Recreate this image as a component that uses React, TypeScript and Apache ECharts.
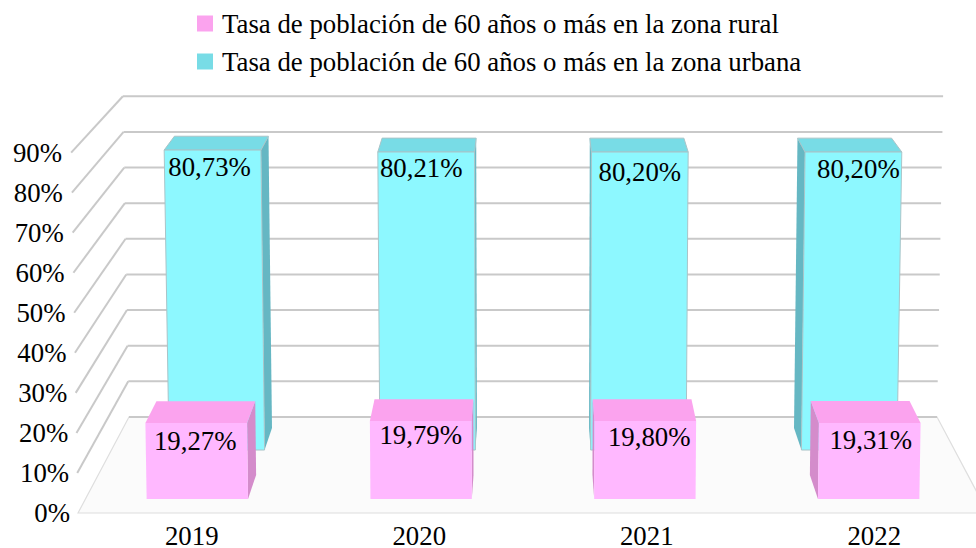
import React, { useEffect, useRef } from "react";
import * as echarts from "echarts";

const YEARS = ["2019", "2020", "2021", "2022"];
const RURAL = [19.27, 19.79, 19.8, 19.31];
const URBAN = [80.73, 80.21, 80.2, 80.2];
const TICKS = [0, 10, 20, 30, 40, 50, 60, 70, 80, 90];
const RURAL_NAME = "Tasa de población de 60 años o más en la zona rural";
const URBAN_NAME = "Tasa de población de 60 años o más en la zona urbana";

const FONT_FAMILY = '"Liberation Serif", "Times New Roman", serif';
const FONT_SIZE = 26.8;
const LABEL_FONT = `${FONT_SIZE}px ${FONT_FAMILY}`;
const GRID_LINE = "#C9C9C9";
// hand-placed label offsets from the reference (dx, dy from the top-front edge centre)
const URBAN_NUDGE = [[-3, 17], [-5, 16], [0, 20], [5, 17]];
const RURAL_NUDGE = [[-1, 18], [0, 14], [4, 16], [1, 17]];

// oblique projection: depth 0 = front plane (the grid), depth 1 = back wall
function projector(cs: any, baseY: number) {
  const cx = cs.x + cs.width / 2;
  return (xf: number, yf: number, d: number): number[] => {
    const h = baseY - yf;
    const y = baseY - 96 * d - h * (1 - 0.11 * d);
    const x = cx + (xf - cx) * (1 - 0.112 * d) * (1 + (0.015 * h) / cs.height);
    return [x, y];
  };
}

function wallItem(params: any, api: any) {
  const cs = params.coordSys;
  const t = api.value(1);
  const yf = api.coord([0, t])[1];
  const baseY = api.coord([0, 0])[1];
  const p = projector(cs, baseY);
  const l0 = p(cs.x, yf, 0);
  const l1 = p(cs.x, yf, 1);
  const r1 = p(cs.x + cs.width, yf, 1);
  const children: any[] = [];
  if (t === 0) {
    const r0 = p(cs.x + cs.width, yf, 0);
    children.push({
      type: "polygon",
      shape: { points: [l0, l1, r1, r0] },
      style: { fill: "#FBFBFB", stroke: "#DEDEDE", lineWidth: 1.2 },
    });
  } else {
    children.push({
      type: "line",
      shape: { x1: l0[0], y1: l0[1], x2: l1[0], y2: l1[1] },
      style: { stroke: GRID_LINE, lineWidth: 2 },
    });
  }
  children.push({
    type: "line",
    shape: { x1: l1[0], y1: l1[1], x2: r1[0], y2: r1[1] },
    style: { stroke: GRID_LINE, lineWidth: 2 },
  });
  return { type: "group", children };
}

function barRenderer(
  d0: number,
  d1: number,
  front: string,
  top: string,
  side: string,
  edge: string,
  nudge: number[][],
) {
  return (params: any, api: any) => {
    const cs = params.coordSys;
    const i = api.value(0);
    const v = api.value(1);
    const [xc, yTop] = api.coord([i, v]);
    const baseY = api.coord([i, 0])[1];
    const w = api.size([1, 0])[0] * 0.453;
    const p = projector(cs, baseY);
    const xa = xc - w / 2;
    const xb = xc + w / 2;
    const leftOfCentre = xc < cs.x + cs.width / 2;
    const sx = leftOfCentre ? xb : xa;
    const stroke = edge ? { stroke: edge, lineWidth: 1 } : {};
    const ft = p((xa + xb) / 2, yTop, d0);
    const children: any[] = [
      {
        type: "polygon",
        shape: { points: [p(sx, yTop, d0), p(sx, yTop, d1), p(sx, baseY, d1), p(sx, baseY, d0)] },
        style: { fill: side },
      },
      {
        type: "polygon",
        shape: { points: [p(xa, yTop, d0), p(xa, yTop, d1), p(xb, yTop, d1), p(xb, yTop, d0)] },
        style: { fill: top, ...stroke },
      },
      {
        type: "polygon",
        shape: { points: [p(xa, yTop, d0), p(xb, yTop, d0), p(xb, baseY, d0), p(xa, baseY, d0)] },
        style: { fill: front, ...stroke },
      },
      {
        type: "text",
        x: ft[0] + nudge[i][0],
        y: ft[1] + nudge[i][1],
        style: {
          text: `${v.toFixed(2).replace(".", ",")}%`,
          fill: "#000",
          font: LABEL_FONT,
          align: "center",
          verticalAlign: "middle",
        },
      },
    ];
    return { type: "group", children };
  };
}

export default function App() {
  const ref = useRef<HTMLDivElement>(null);
  useEffect(() => {
    const chart = echarts.init(ref.current!, undefined, { renderer: "svg" });
    const rich: any = {};
    TICKS.forEach((t) => {
      rich[`t${t}`] = {
        fontFamily: FONT_FAMILY,
        fontSize: FONT_SIZE,
        color: "#000",
        padding: [0, t * 0.089, 0, 0],
      };
    });
    chart.setOption({
      animation: false,
      backgroundColor: "#fff",
      legend: {
        orient: "vertical",
        left: 192,
        top: 5,
        icon: "rect",
        itemWidth: 16,
        itemHeight: 16,
        itemGap: 11,
        selectedMode: false,
        data: [RURAL_NAME, URBAN_NAME],
        textStyle: {
          fontFamily: FONT_FAMILY,
          fontSize: FONT_SIZE,
          color: "#000",
          padding: [0, 0, 0, 4],
        },
      },
      grid: { left: 78, width: 910, top: 152.6, height: 360.4, outerBoundsMode: "none" },
      xAxis: {
        type: "category",
        data: YEARS,
        axisLine: { show: false },
        axisTick: { show: false },
        axisLabel: {
          interval: 0,
          margin: 13,
          lineHeight: 20,
          fontFamily: FONT_FAMILY,
          fontSize: FONT_SIZE,
          color: "#000",
        },
      },
      yAxis: {
        type: "value",
        min: 0,
        max: 90,
        interval: 10,
        axisLine: { show: false },
        axisTick: { show: false },
        splitLine: { show: false },
        axisLabel: {
          margin: 8,
          formatter: (v: number) => `{t${v}|${v}%}`,
          rich,
        },
      },
      series: [
        {
          type: "custom",
          silent: true,
          z: 1,
          encode: { x: 0, y: 1 },
          data: TICKS.map((t) => [0, t]),
          renderItem: wallItem,
        },
        {
          type: "custom",
          name: URBAN_NAME,
          silent: true,
          z: 2,
          itemStyle: { color: "#78DCE6" },
          encode: { x: 0, y: 1 },
          data: URBAN.map((v, i) => [i, v]),
          renderItem: barRenderer(0.656, 0.885, "#8DF8FF", "#78DCE6", "#65B7C3", "#A9C4C8", URBAN_NUDGE),
        },
        {
          type: "custom",
          name: RURAL_NAME,
          silent: true,
          z: 3,
          itemStyle: { color: "#FBA3EE" },
          encode: { x: 0, y: 1 },
          data: RURAL.map((v, i) => [i, v]),
          renderItem: barRenderer(0.146, 0.396, "#FFB8FF", "#FBA3EE", "#D48CCB", "", RURAL_NUDGE),
        },
      ],
    });
    return () => chart.dispose();
  }, []);
  return (
    <div
      ref={ref}
      style={{ position: "absolute", left: 0, top: 0, width: 976, height: 548, overflow: "hidden" }}
    />
  );
}
